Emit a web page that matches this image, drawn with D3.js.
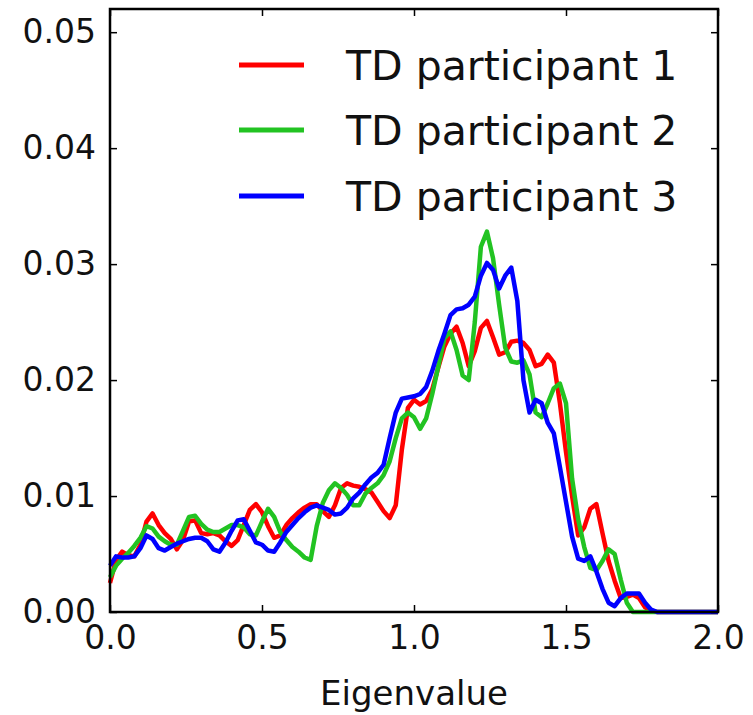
<!DOCTYPE html>
<html>
<head>
<meta charset="utf-8">
<script src="https://cdn.jsdelivr.net/npm/d3@7"></script>
<style>
  html, body { margin: 0; padding: 0; background: #fff; }
  svg { display: block; }
  text { font-family: "DejaVu Sans", sans-serif; fill: #111; }
</style>
</head>
<body>
<div id="chart"></div>
<script>
// Eigenvalue grid shared by all three density curves
const eigenvalues = [
  0.00, 0.02, 0.04, 0.06, 0.08, 0.10, 0.12, 0.14, 0.16, 0.18,
  0.20, 0.22, 0.24, 0.26, 0.28, 0.30, 0.32, 0.34, 0.36, 0.38,
  0.40, 0.42, 0.44, 0.46, 0.48, 0.50, 0.52, 0.54, 0.56, 0.58,
  0.60, 0.62, 0.64, 0.66, 0.68, 0.70, 0.72, 0.74, 0.76, 0.78,
  0.80, 0.82, 0.84, 0.86, 0.88, 0.90, 0.92, 0.94, 0.96, 0.98,
  1.00, 1.02, 1.04, 1.06, 1.08, 1.10, 1.12, 1.14, 1.16, 1.18,
  1.20, 1.22, 1.24, 1.26, 1.28, 1.30, 1.32, 1.34, 1.36, 1.38,
  1.40, 1.42, 1.44, 1.46, 1.48, 1.50, 1.52, 1.54, 1.56, 1.58,
  1.60, 1.62, 1.64, 1.66, 1.68, 1.70, 1.72, 1.74, 1.76, 1.78,
  1.80, 1.82, 1.84, 1.86, 1.88, 1.90, 1.92, 1.94, 1.96, 1.98,
  2.00
];

const participant1 = [
  0.0025, 0.0045, 0.0052, 0.0049, 0.0048, 0.0058, 0.0078, 0.0085, 0.0075, 0.0068,
  0.0063, 0.0054, 0.0062, 0.0078, 0.0079, 0.0068, 0.0067, 0.0068, 0.0066, 0.0061,
  0.0057, 0.0062, 0.0075, 0.0088, 0.0093, 0.0086, 0.0074, 0.0064, 0.0066, 0.0075,
  0.0081, 0.0086, 0.0090, 0.0093, 0.0093, 0.0087, 0.0082, 0.0092, 0.0107, 0.0111,
  0.0109, 0.0108, 0.0106, 0.0103, 0.0095, 0.0087, 0.0081, 0.0092, 0.0140, 0.0176,
  0.0183, 0.0179, 0.0182, 0.0192, 0.0211, 0.0229, 0.0240, 0.0246, 0.0232, 0.0212,
  0.0225, 0.0245, 0.0251, 0.0237, 0.0222, 0.0224, 0.0233, 0.0234, 0.0232, 0.0226,
  0.0212, 0.0214, 0.0222, 0.0215, 0.0180, 0.0138, 0.0100, 0.0066, 0.0073, 0.0089,
  0.0093, 0.0068, 0.0044, 0.0027, 0.0012, 0.0013, 0.0015, 0.0012, 0.0004, 0.0001,
  0.0000, 0.0000, 0.0000, 0.0000, 0.0000, 0.0000, 0.0000, 0.0000, 0.0000, 0.0000,
  0.0000
];

const participant2 = [
  0.0030, 0.0040, 0.0046, 0.0051, 0.0057, 0.0064, 0.0074, 0.0072, 0.0065, 0.0061,
  0.0058, 0.0058, 0.0070, 0.0082, 0.0083, 0.0076, 0.0071, 0.0069, 0.0069, 0.0072,
  0.0075, 0.0075, 0.0073, 0.0067, 0.0066, 0.0078, 0.0089, 0.0082, 0.0069, 0.0062,
  0.0056, 0.0052, 0.0047, 0.0045, 0.0074, 0.0094, 0.0105, 0.0111, 0.0107, 0.0101,
  0.0092, 0.0092, 0.0102, 0.0107, 0.0111, 0.0118, 0.0130, 0.0150, 0.0167, 0.0172,
  0.0168, 0.0158, 0.0167, 0.0188, 0.0212, 0.0236, 0.0242, 0.0226, 0.0204, 0.0200,
  0.0250, 0.0315, 0.0328, 0.0305, 0.0265, 0.0228, 0.0216, 0.0215, 0.0217, 0.0205,
  0.0172, 0.0168, 0.0180, 0.0193, 0.0197, 0.0180, 0.0115, 0.0080, 0.0056, 0.0038,
  0.0036, 0.0044, 0.0054, 0.0050, 0.0028, 0.0008, 0.0000, 0.0000, 0.0000, 0.0000,
  0.0000, 0.0000, 0.0000, 0.0000, 0.0000, 0.0000, 0.0000, 0.0000, 0.0000, 0.0000,
  0.0000
];

const participant3 = [
  0.0040, 0.0048, 0.0047, 0.0047, 0.0048, 0.0055, 0.0066, 0.0063, 0.0055, 0.0053,
  0.0056, 0.0059, 0.0061, 0.0063, 0.0064, 0.0064, 0.0061, 0.0054, 0.0052, 0.0060,
  0.0070, 0.0079, 0.0080, 0.0070, 0.0060, 0.0058, 0.0053, 0.0052, 0.0060, 0.0069,
  0.0075, 0.0081, 0.0086, 0.0090, 0.0092, 0.0090, 0.0088, 0.0084, 0.0085, 0.0090,
  0.0098, 0.0103, 0.0110, 0.0116, 0.0120, 0.0127, 0.0150, 0.0172, 0.0184, 0.0185,
  0.0186, 0.0188, 0.0194, 0.0208, 0.0225, 0.0240, 0.0256, 0.0261, 0.0262, 0.0265,
  0.0272, 0.0290, 0.0301, 0.0295, 0.0279, 0.0290, 0.0297, 0.0268, 0.0200, 0.0172,
  0.0183, 0.0180, 0.0163, 0.0154, 0.0125, 0.0095, 0.0065, 0.0046, 0.0044, 0.0048,
  0.0035, 0.0020, 0.0008, 0.0005, 0.0012, 0.0016, 0.0016, 0.0016, 0.0008, 0.0002,
  0.0000, 0.0000, 0.0000, 0.0000, 0.0000, 0.0000, 0.0000, 0.0000, 0.0000, 0.0000,
  0.0000
];

const seriesNames = ["TD participant 1", "TD participant 2", "TD participant 3"];
const seriesColors = ["#ff0000", "#22c322", "#0000ff"];
const seriesValues = [participant1, participant2, participant3];

const xTicks = [0.0, 0.5, 1.0, 1.5, 2.0];
const yTicks = [0.00, 0.01, 0.02, 0.03, 0.04, 0.05];
const xDomain = [0, 2];
const yDomain = [0, 0.052];

const W = 753, H = 715;
const plot = { left: 110, right: 718, top: 9, bottom: 612 };

const svg = d3.select("#chart").append("svg")
  .attr("width", W).attr("height", H);

const x = d3.scaleLinear().domain(xDomain).range([plot.left, plot.right]);
const y = d3.scaleLinear().domain(yDomain).range([plot.bottom, plot.top]);

// Density curves
const line = d3.line()
  .x(d => x(d[0]))
  .y(d => y(d[1]));

const curves = svg.append("g");

seriesValues.forEach((vals, i) => {
  const pts = eigenvalues.map((e, k) => [e, vals[k]]);
  curves.append("path")
    .datum(pts)
    .attr("d", line)
    .attr("fill", "none")
    .attr("stroke", seriesColors[i])
    .attr("stroke-width", 4.5)
    .attr("stroke-linejoin", "round")
    .attr("stroke-linecap", "butt");
});

// Axes with inward ticks on all four sides
const tickLen = 7;
const fmtX = d3.format(".1f");
const fmtY = d3.format(".2f");

const bottomAxis = d3.axisBottom(x).tickValues(xTicks).tickFormat(fmtX)
  .tickSizeInner(-tickLen).tickSizeOuter(0).tickPadding(14);
const topAxis = d3.axisTop(x).tickValues(xTicks).tickFormat("")
  .tickSizeInner(-tickLen).tickSizeOuter(0);
const leftAxis = d3.axisLeft(y).tickValues(yTicks).tickFormat(fmtY)
  .tickSizeInner(-tickLen).tickSizeOuter(0).tickPadding(14);
const rightAxis = d3.axisRight(y).tickValues(yTicks).tickFormat("")
  .tickSizeInner(-tickLen).tickSizeOuter(0);

function styleAxis(g) {
  g.select(".domain").remove();
  g.selectAll(".tick line").attr("stroke", "#000").attr("stroke-width", 1.5);
  g.selectAll(".tick text")
    .attr("font-family", "DejaVu Sans, sans-serif")
    .attr("font-size", 33)
    .attr("fill", "#111");
}

svg.append("g").attr("transform", `translate(0,${plot.bottom})`).call(bottomAxis).call(styleAxis);
svg.append("g").attr("transform", `translate(0,${plot.top})`).call(topAxis).call(styleAxis);
svg.append("g").attr("transform", `translate(${plot.left},0)`).call(leftAxis).call(styleAxis);
svg.append("g").attr("transform", `translate(${plot.right},0)`).call(rightAxis).call(styleAxis);

// Frame around the plotting area
svg.append("rect")
  .attr("x", plot.left).attr("y", plot.top)
  .attr("width", plot.right - plot.left)
  .attr("height", plot.bottom - plot.top)
  .attr("fill", "none")
  .attr("stroke", "#000")
  .attr("stroke-width", 2.5);

// X axis title
svg.append("text")
  .attr("x", (plot.left + plot.right) / 2)
  .attr("y", 705)
  .attr("text-anchor", "middle")
  .attr("font-size", 34)
  .text("Eigenvalue");

// Legend (no frame)
const legendRows = [65, 130, 196];
const legend = svg.append("g");
seriesNames.forEach((name, i) => {
  const row = legend.append("g").attr("transform", `translate(0,${legendRows[i]})`);
  row.append("line")
    .attr("x1", 239).attr("x2", 304)
    .attr("y1", 0).attr("y2", 0)
    .attr("stroke", seriesColors[i])
    .attr("stroke-width", 5);
  row.append("text")
    .attr("x", 346)
    .attr("y", 0)
    .attr("dy", "0.36em")
    .attr("font-size", 41)
    .text(name);
});
</script>
</body>
</html>
